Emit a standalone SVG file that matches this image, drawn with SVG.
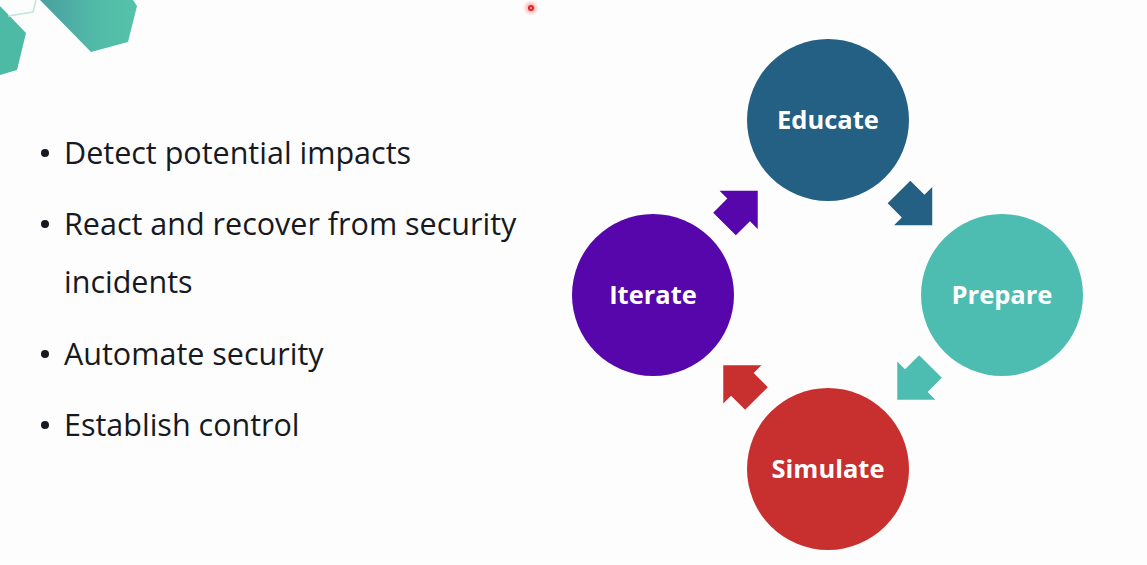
<svg xmlns="http://www.w3.org/2000/svg" width="1147" height="565" viewBox="0 0 1147 565">
  <defs>
    <style>
      .bullet-text { font-family: "Open Sans", "Liberation Sans", sans-serif; font-size: 30.5px; fill: #16191f; }
      .node-label { font-family: "Open Sans", "Liberation Sans", sans-serif; font-size: 25.5px; font-weight: 700; fill: #ffffff; text-anchor: middle; }
    </style>
    <linearGradient id="hexGrad" x1="0" y1="0" x2="1" y2="0">
      <stop offset="0" stop-color="#4a9fa0"/>
      <stop offset="0.6" stop-color="#52bba8"/>
      <stop offset="1" stop-color="#55c2a8"/>
    </linearGradient>
    <radialGradient id="dotGlow">
      <stop offset="0" stop-color="#ff4a4a" stop-opacity="0.6"/>
      <stop offset="1" stop-color="#ff4a4a" stop-opacity="0"/>
    </radialGradient>
    <!-- block arrow pointing along +x, tail at origin -->
    <polygon id="blockArrow" points="0,-16 20,-16 20,-27 47,0 20,27 20,16 0,16"/>
  </defs>

  <rect width="1147" height="565" fill="#fdfdfd"/>

  <!-- corner decoration -->
  <g id="decor">
    <polygon points="40,0 133,0 137,6 128,42 91,52" fill="url(#hexGrad)"/>
    <polygon points="0,6 26,33 17,70 0,75" fill="#4dbaa6"/>
    <polyline points="36,0 33,12 8,16" fill="none" stroke="#bfe6dc" stroke-width="1.5"/>
  </g>

  <!-- pointer dot -->
  <g id="pointer">
    <circle cx="531" cy="8" r="8" fill="url(#dotGlow)"/>
    <circle cx="531" cy="8" r="3" fill="#e0211d"/>
    <circle cx="531" cy="8" r="1.2" fill="#ff9a9a"/>
  </g>

  <!-- bullet list -->
  <g id="bullets">
    <circle cx="45" cy="153" r="4" fill="#16191f"/>
    <text class="bullet-text" x="64" y="164">Detect potential impacts</text>
    <circle cx="45" cy="224" r="4" fill="#16191f"/>
    <text class="bullet-text" x="64" y="235">React and recover from security</text>
    <text class="bullet-text" x="64" y="293">incidents</text>
    <circle cx="45" cy="354" r="4" fill="#16191f"/>
    <text class="bullet-text" x="64" y="365">Automate security</text>
    <circle cx="45" cy="425" r="4" fill="#16191f"/>
    <text class="bullet-text" x="64" y="436">Establish control</text>
  </g>

  <!-- cycle nodes -->
  <g id="node-educate">
    <circle cx="828" cy="120" r="81" fill="#245f84"/>
    <text class="node-label" x="828" y="129">Educate</text>
  </g>
  <g id="node-prepare">
    <circle cx="1002" cy="295" r="81" fill="#4dbdb1"/>
    <text class="node-label" x="1002" y="304">Prepare</text>
  </g>
  <g id="node-simulate">
    <circle cx="828" cy="469" r="81" fill="#c82f2f"/>
    <text class="node-label" x="828" y="478">Simulate</text>
  </g>
  <g id="node-iterate">
    <circle cx="653" cy="295" r="81" fill="#5606ab"/>
    <text class="node-label" x="653" y="304">Iterate</text>
  </g>

  <!-- connectors -->
  <g id="connectors">
    <use href="#blockArrow" transform="translate(899,192) rotate(45)" fill="#245f84"/>
    <use href="#blockArrow" transform="translate(930.5,366.5) rotate(135)" fill="#4dbdb1"/>
    <use href="#blockArrow" transform="translate(756.5,398.5) rotate(225)" fill="#c82f2f"/>
    <use href="#blockArrow" transform="translate(724.5,224) rotate(315)" fill="#5606ab"/>
  </g>
</svg>
